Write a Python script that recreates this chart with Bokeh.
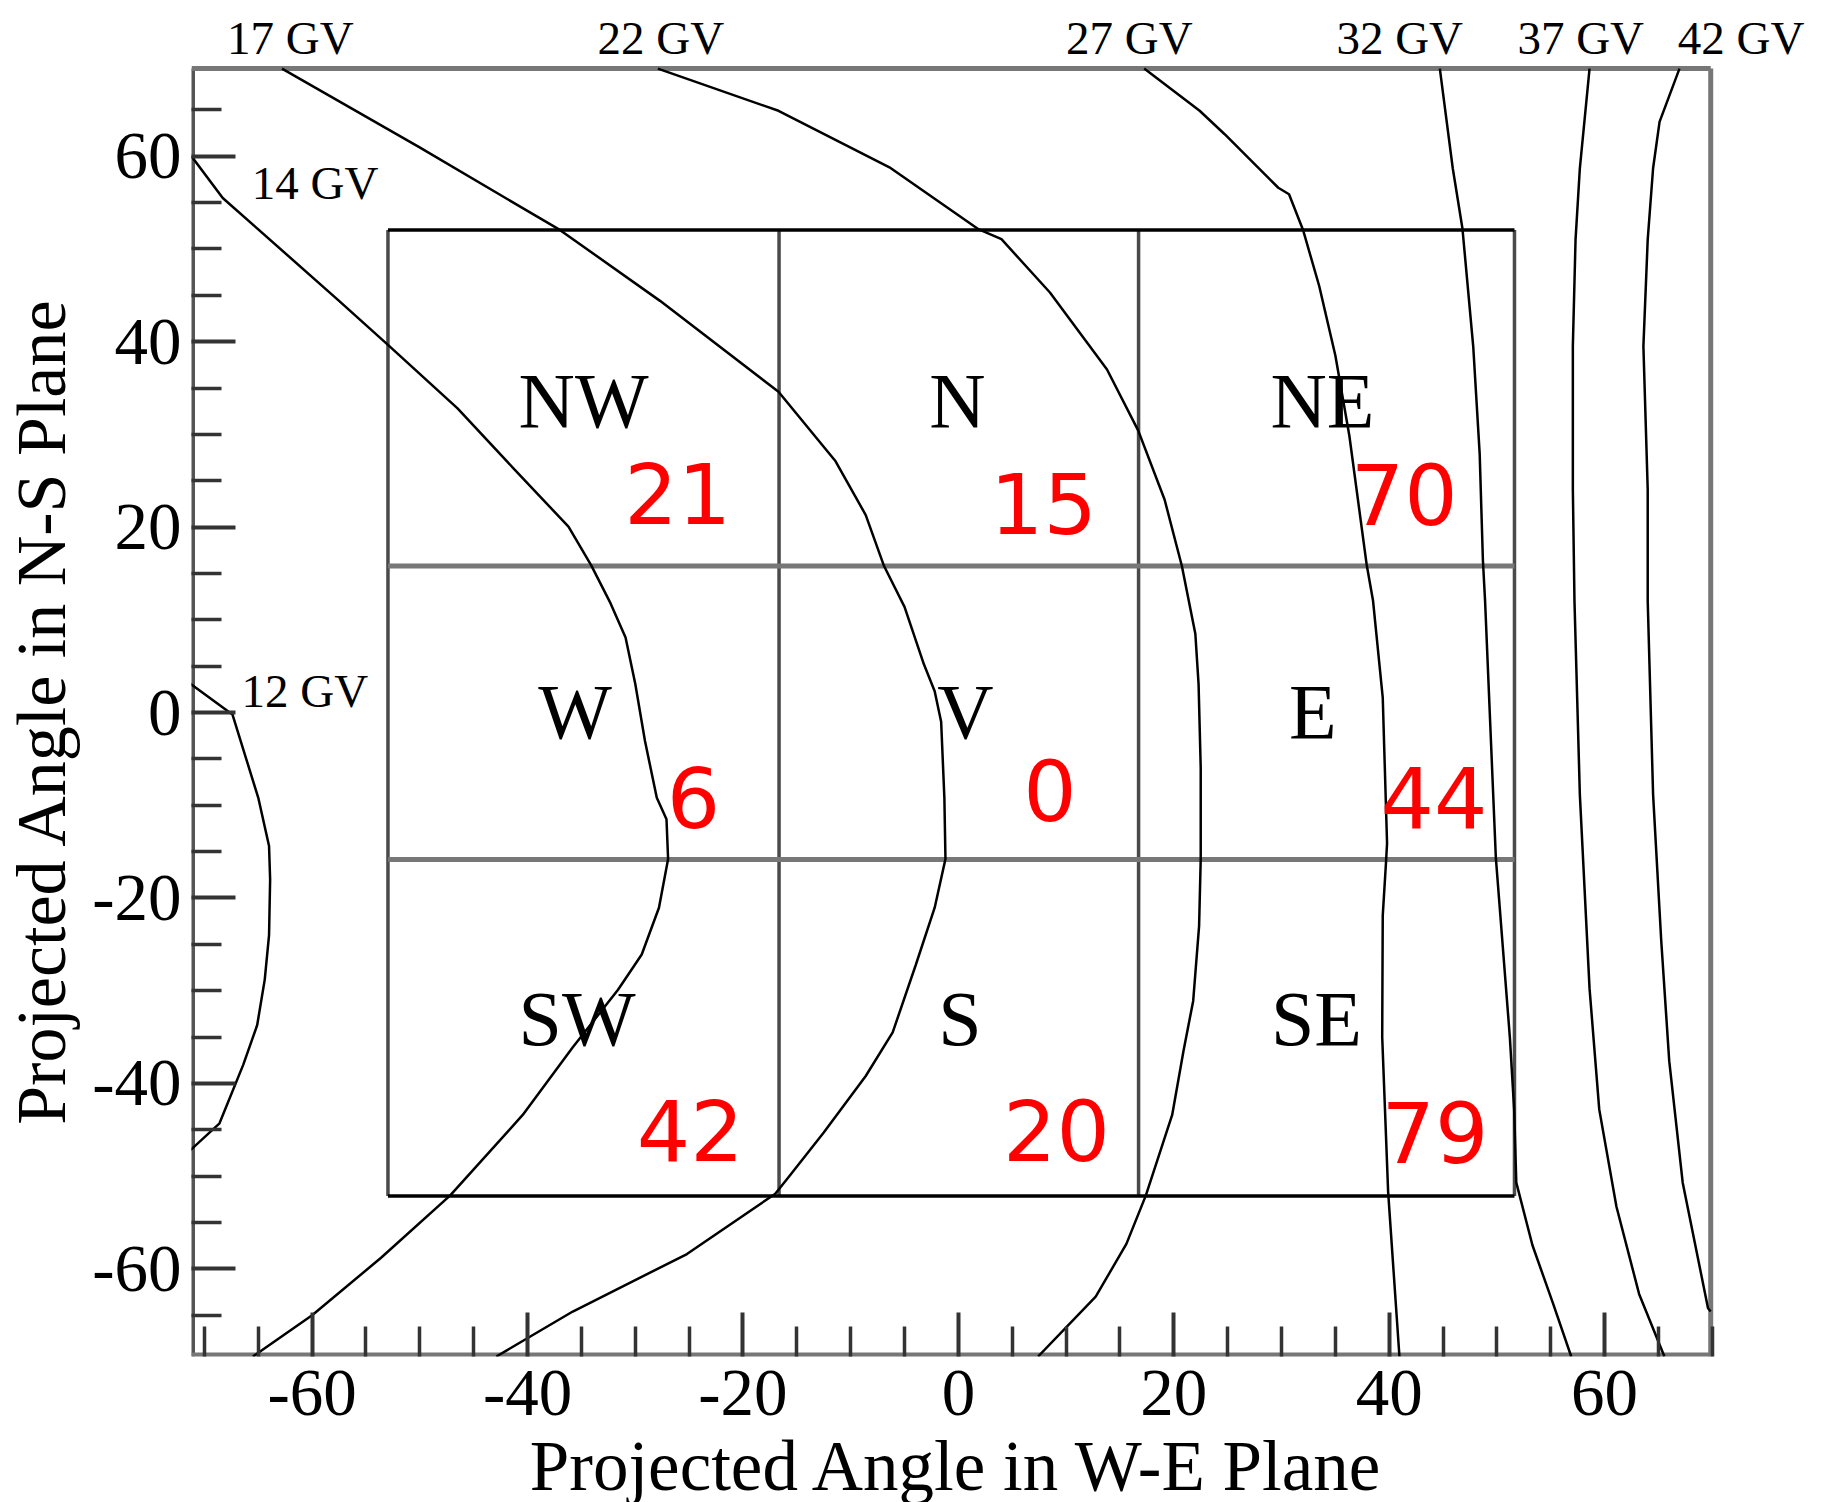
from bokeh.plotting import figure
from bokeh.models import Range1d, FixedTicker
from bokeh.core.properties import value
from bokeh.embed import file_html
from bokeh.resources import INLINE

# ---------------- data ----------------
# plotted area of the chart (degrees)
x_limits = (-71.2, 69.85)
y_limits = (-69.45, 69.45)

x_major_ticks = [-60, -40, -20, 0, 20, 40, 60]
x_minor_ticks = [-70, -65, -55, -50, -45, -35, -30, -25, -15, -10, -5, 5, 10, 15,
                 25, 30, 35, 45, 50, 55, 65, 70]
y_major_ticks = [-60, -40, -20, 0, 20, 40, 60]
y_minor_ticks = [-65, -55, -50, -45, -35, -30, -25, -15, -10, -5, 5, 10, 15,
                 25, 30, 35, 45, 50, 55, 65]
tick_labels = {-60: "-60", -40: "-40", -20: "-20", 0: "0", 20: "20", 40: "40", 60: "60"}

# cut-off rigidity contours (degrees, degrees)
gv12_x = [-71.3, -67.4, -65.0, -64.0, -63.9, -64.0, -64.4, -65.1, -66.4, -68.6, -71.3]
gv12_y = [3.1, -0.2, -9.2, -14.4, -18.0, -24.0, -28.8, -33.7, -38.0, -44.3, -47.2]

gv14_x = [-71.2, -68.3, -57.5, -52.96, -46.5, -41.2, -36.2, -34.1, -32.3, -30.9, -30.0, -29.1,
          -28.0, -27.1, -26.95, -27.8, -29.4, -31.6, -35.8, -40.45, -47.2, -53.6, -60.0, -65.5]
gv14_y = [60.0, 55.5, 44.4, 39.65, 32.8, 26.2, 20.05, 15.9, 11.8, 8.1, 3.1, -3.05,
          -9.2, -11.5, -15.8, -21.05, -26.1, -29.9, -36.1, -43.4, -52.1, -58.8, -65.0, -69.45]

gv17_x = [-62.8, -50.1, -37.0, -27.7, -16.7, -11.4, -8.6, -6.9, -5.0, -3.2, -2.2, -1.6, -1.3,
          -1.2, -2.2, -3.95, -6.1, -8.6, -12.5, -15.7, -17.0, -25.2, -35.8, -42.9]
gv17_y = [69.45, 61.0, 52.05, 44.4, 34.6, 27.1, 21.3, 15.8, 11.4, 5.2, 2.3, -1.0, -9.2,
          -15.8, -21.05, -27.2, -34.5, -39.2, -45.3, -50.0, -51.9, -58.4, -64.6, -69.45]

gv22_x = [-27.9, -16.7, -6.4, 1.9, 4.0, 8.5, 13.8, 16.7, 19.15, 20.75, 22.0, 22.3, 22.5, 22.5,
          22.35, 21.8, 20.9, 19.85, 17.4, 15.6, 12.75, 7.4]
gv22_y = [69.45, 64.9, 58.8, 52.1, 51.05, 45.3, 37.0, 30.4, 22.95, 15.8, 8.5, 3.1, -6.0, -15.8,
          -23.0, -31.1, -36.5, -43.4, -52.1, -57.3, -63.0, -69.45]

gv27_x = [17.25, 22.4, 24.7, 29.7, 30.7, 32.0, 33.5, 35.0, 36.3, 37.9, 38.5, 39.4, 39.8, 39.7,
          39.4, 39.35, 39.9, 40.95]
gv27_y = [69.45, 64.9, 62.4, 56.6, 55.9, 52.05, 46.0, 38.5, 29.85, 16.0, 12.05, 1.6, -14.1, -16.2,
          -21.9, -35.0, -51.7, -69.45]

gv32_x = [44.7, 45.9, 46.8, 47.8, 48.4, 48.7, 48.9, 49.9, 51.2, 51.6, 51.8, 53.3, 55.2, 56.9]
gv32_y = [69.45, 58.7, 52.2, 39.5, 27.9, 16.4, 12.05, -15.65, -35.0, -42.8, -50.7, -57.45, -63.7, -69.45]

gv37_x = [58.6, 57.7, 57.3, 57.05, 57.05, 57.2, 57.7, 58.6, 59.5, 61.1, 63.2, 65.55]
gv37_y = [69.45, 58.7, 51.0, 39.5, 24.1, 12.05, -8.85, -29.75, -42.8, -53.3, -62.7, -69.45]

gv42_x = [66.95, 65.1, 64.5, 64.0, 63.6, 64.0, 64.0, 64.5, 65.25, 66.0, 67.25, 69.6, 69.85]
gv42_y = [69.45, 63.7, 58.7, 51.0, 39.5, 24.1, 12.05, -8.85, -24.5, -37.6, -50.7, -64.25, -64.6]

# contour labels (left edge x, baseline y)
gv_label_text = ["12 GV", "14 GV", "17 GV", "22 GV", "27 GV", "32 GV", "37 GV", "42 GV"]
gv_label_x = [-66.56, -65.6, -67.9, -33.5, 10.0, 35.1, 51.9, 66.8]
gv_label_y = [0.66, 55.5, 71.17, 71.17, 71.17, 71.17, 71.17, 71.17]

# direction cells
cell_x_edges = [-52.96, -16.65, 16.73, 51.63]
cell_y_edges = [52.05, 15.81, -15.84, -52.14]

# cell names (centre x, baseline y)
region_names = ["NW", "N", "NE", "W", "V", "E", "SW", "S", "SE"]
region_x = [-34.8, -0.1, 33.8, -35.6, 0.65, 32.9, -35.4, 0.15, 33.25]
region_y = [30.5, 30.5, 30.5, -3.05, -3.05, -3.05, -36.1, -36.1, -36.1]

# counts per cell (centre x, baseline y)
count_text = ["21", "15", "70", "6", "0", "44", "42", "20", "79"]
count_x = [-26.05, 7.9, 41.4, -24.6, 8.5, 44.15, -24.9, 9.1, 44.25]
count_y = [20.3, 19.3, 20.2, -12.5, -11.7, -12.5, -48.4, -48.4, -48.6]

# ---------------- figure ----------------
SERIF = "Liberation Serif"
PX_X = 10.773   # pixels per degree, horizontal
PX_Y = 9.275    # pixels per degree, vertical
view_x = (x_limits[0], 79.3)     # room on the right for the "42 GV" label
view_y = (y_limits[0], 75.5)     # room on top for the contour labels

# the renderer sets these texts a little low; lift each group by this many pixels
LIFT_REGION = 29
LIFT_COUNT = 31
LIFT_GV = 15

p = figure(frame_width=round((view_x[1] - view_x[0]) * PX_X),
           frame_height=round((view_y[1] - view_y[0]) * PX_Y),
           x_range=Range1d(*view_x), y_range=Range1d(*view_y),
           output_backend="svg", toolbar_location=None,
           min_border_left=184, min_border_top=12, min_border_right=2,
           min_border_bottom=130,
           background_fill_color="white", border_fill_color="white")

p.outline_line_color = None
p.xgrid.visible = False
p.ygrid.visible = False

p.xaxis.ticker = FixedTicker(ticks=x_major_ticks, minor_ticks=x_minor_ticks)
p.yaxis.ticker = FixedTicker(ticks=y_major_ticks, minor_ticks=y_minor_ticks)
for ax in (p.xaxis[0], p.yaxis[0]):
    ax.major_label_overrides = tick_labels
    ax.axis_line_color = None
    ax.major_tick_in = 44
    ax.major_tick_out = 0
    ax.minor_tick_in = 30
    ax.minor_tick_out = 0
    ax.major_tick_line_color = "#333333"
    ax.major_tick_line_width = 4
    ax.minor_tick_line_color = "#333333"
    ax.minor_tick_line_width = 3.5
    ax.major_label_text_font = SERIF
    ax.major_label_text_font_size = "67px"
    ax.major_label_text_color = "black"
    ax.axis_label_text_font = SERIF
    ax.axis_label_text_font_size = "70px"
    ax.axis_label_text_font_style = "normal"
    ax.axis_label_text_color = "black"

p.xaxis.axis_label_text_font_size = "71px"

NB = "\u00a0"
# padding keeps the titles centred on the plotted area rather than the wider canvas
p.xaxis.axis_label = "Projected Angle in W-E Plane" + NB * 5
p.yaxis.axis_label = "Projected Angle in N-S Plane" + NB * 3
p.xaxis.major_label_standoff = 14
p.yaxis.major_label_standoff = 10
p.xaxis.axis_label_standoff = 9
p.yaxis.axis_label_standoff = 9

# ---- frame of the plotted area ----
x0, x1 = x_limits
y0, y1 = y_limits
p.segment(x0=[x0], y0=[y0], x1=[x0], y1=[y1], line_color="#555555", line_width=7)   # left axis
p.segment(x0=[x0], y0=[y0], x1=[x1], y1=[y0], line_color="#777777", line_width=8)   # bottom axis
p.segment(x0=[x0, x1], y0=[y1, y0], x1=[x1, x1], y1=[y1, y1],
          line_color="#777777", line_width=5)                                        # top / right

# ---- cells ----
x_lo, x_hi = cell_x_edges[0], cell_x_edges[-1]
y_hi, y_lo = cell_y_edges[0], cell_y_edges[-1]
p.segment(x0=cell_x_edges, y0=[y_lo] * len(cell_x_edges),
          x1=cell_x_edges, y1=[y_hi] * len(cell_x_edges),
          line_color="#4a4a4a", line_width=3.5)
p.segment(x0=[x_lo, x_lo], y0=cell_y_edges[1:3], x1=[x_hi, x_hi], y1=cell_y_edges[1:3],
          line_color="#777777", line_width=5)
p.segment(x0=[x_lo, x_lo], y0=[y_hi, y_lo], x1=[x_hi, x_hi], y1=[y_hi, y_lo],
          line_color="black", line_width=3.5)

# ---- contours ----
contours = [(gv12_x, gv12_y), (gv14_x, gv14_y), (gv17_x, gv17_y), (gv22_x, gv22_y),
            (gv27_x, gv27_y), (gv32_x, gv32_y), (gv37_x, gv37_y), (gv42_x, gv42_y)]
p.multi_line(xs=[c[0] for c in contours], ys=[c[1] for c in contours],
             line_color="black", line_width=2.5)

# ---- region names ----
p.text(x=region_x, y=[v + LIFT_REGION / PX_Y for v in region_y], text=region_names,
       text_font=value(SERIF), text_font_size="78px", text_color="black",
       text_align="center", text_baseline="alphabetic")

# ---- counts ----
p.text(x=count_x, y=[v + LIFT_COUNT / PX_Y for v in count_y], text=count_text,
       text_font=value("DejaVu Sans"), text_font_size="84px", text_color="#ff0000",
       text_align="center", text_baseline="alphabetic")

# ---- contour labels ----
p.text(x=gv_label_x, y=[v + LIFT_GV / PX_Y for v in gv_label_y], text=gv_label_text,
       text_font=value(SERIF), text_font_size="47px", text_color="black",
       text_align="left", text_baseline="alphabetic")

open("out.html", "w").write(file_html(p, INLINE))
